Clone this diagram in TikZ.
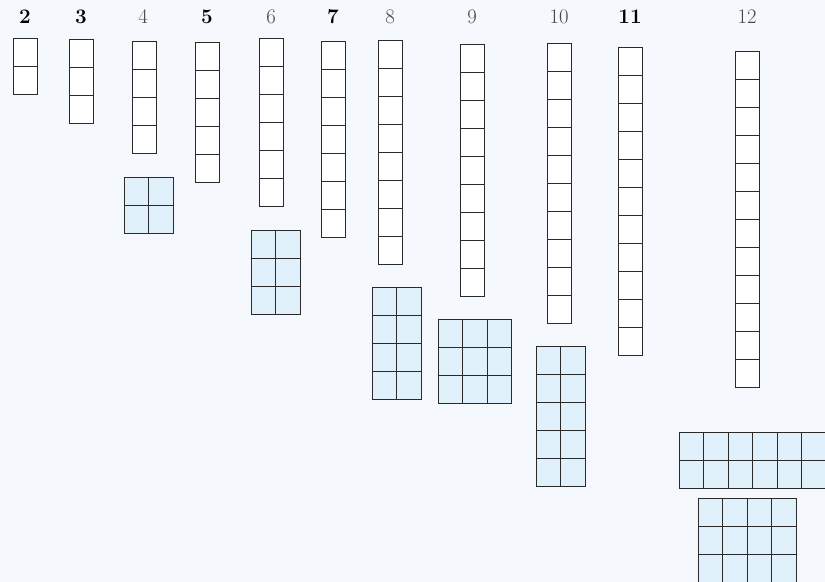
\documentclass[tikz,border=0pt]{standalone}
\usepackage{xcolor}
\usepackage{tikz}

\definecolor{paper}{HTML}{F5F9FD}
\definecolor{cellblue}{HTML}{E0F1FB}
\definecolor{gridline}{HTML}{2A2A2A}
\definecolor{compgrey}{HTML}{444444}

\begin{document}
\begin{tikzpicture}[x=0.75pt, y=-0.75pt]
\tikzstyle{cell} = [draw=gridline, line width=0.65pt, fill=white]
\tikzstyle{block} = [draw=gridline, line width=0.65pt, fill=cellblue]
\tikzstyle{prime} = [font=\fontsize{15.5}{18}\selectfont\bfseries, text=black]
\tikzstyle{comp} = [font=\fontsize{15.5}{18}\selectfont, text=compgrey]

% page and background
\useasboundingbox (0,0) rectangle (825,582);
\fill[paper] (0,0) rectangle (825,582);
\clip (0,0) rectangle (825,582);

% number labels
\node (n2) [prime] at (25,17) {2};
\node (n3) [prime] at (81,17) {3};
\node (n4) [comp] at (143,17) {4};
\node (n5) [prime] at (207,17) {5};
\node (n6) [comp] at (271,17) {6};
\node (n7) [prime] at (333,17) {7};
\node (n8) [comp] at (390,17) {8};
\node (n9) [comp] at (472,17) {9};
\node (n10) [comp] at (559,17) {10};
\node (n11) [prime] at (630,17) {11};
\node (n12) [comp] at (747,17) {12};

% single columns: left / top / count
\foreach \cx/\cy/\n in {13/38/2, 69/39/3, 132/41/4, 195/42/5, 259/38/6,
                         321/41/7, 378/40/8, 460/44/9, 547/43/10, 618/47/11, 735/51/12}
  \foreach \i in {1,...,\n}
    \draw[cell] (\cx,{\cy+(\i-1)*28}) rectangle ++(24.5,28);

% rectangular arrays: left / top / columns / rows
\foreach \bx/\by/\c/\r in {124/177/2/2, 251/230/2/3, 372/287/2/4, 438/319/3/3,
                            536/346/2/5, 679/432/6/2, 698/498/4/3}
  \foreach \i in {1,...,\c}
    \foreach \j in {1,...,\r}
      \draw[block] ({\bx+(\i-1)*24.5},{\by+(\j-1)*28}) rectangle ++(24.5,28);
\end{tikzpicture}
\end{document}
